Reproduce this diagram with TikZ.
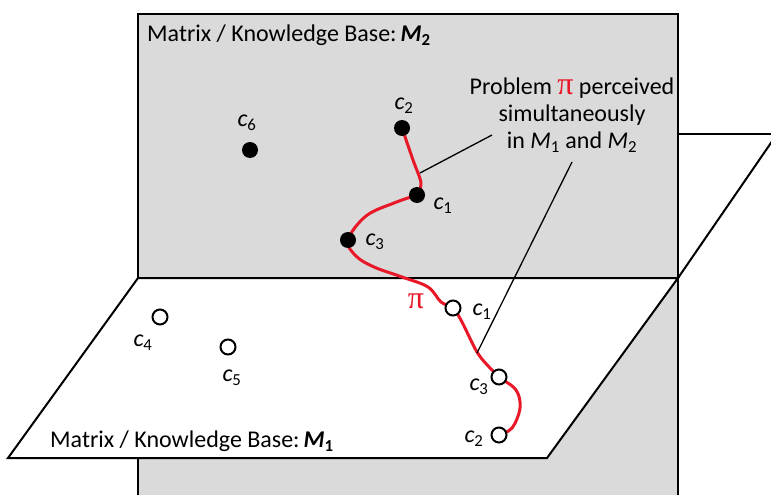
\documentclass[tikz,border=0pt]{standalone}
\usepackage{fontspec}
\setmainfont{Carlito}
\newfontfamily\pifont{Liberation Serif}
\definecolor{planegray}{RGB}{218,218,218}
\definecolor{pired}{RGB}{232,24,40}
\newcommand{\cl}[1]{\textit{c}\textsubscript{#1}}
\newcommand{\bigpi}{{\pifont\fontsize{32}{27}\selectfont\color{pired}π}}
\begin{document}
\begin{tikzpicture}[x=1pt,y=-1pt,
  every node/.style={font=\fontsize{24}{27}\selectfont, inner sep=0pt},
  edge/.style={line width=2pt, line join=miter},
  fulldot/.style={circle, fill=black, minimum size=16pt, inner sep=0pt},
  opendot/.style={circle, draw=black, fill=white, line width=2pt, minimum size=15pt, inner sep=0pt},
  pipath/.style={draw=pired, line width=3pt, line cap=round, line join=round},
  leader/.style={line width=1.3pt},
  lbl/.style={inner sep=0pt}]
\useasboundingbox (0,0) rectangle (771,495);
\clip (0,0) rectangle (771,495);
% vertical plane M2
\draw[line width=2.5pt, fill=planegray] (138,14) rectangle (678,510);
% back part of horizontal plane
\draw[edge] (678,134) -- (790,134);
\draw[edge] (678,278) -- (775,137);
% front part of horizontal plane M1
\draw[edge, fill=white] (138,278) -- (678,278) -- (547,458) -- (8,458) -- cycle;
% points
\coordinate (b2) at (402,128);
\coordinate (b1) at (417,195);
\coordinate (b3) at (348,240);
\coordinate (b6) at (250,150);
\coordinate (w1) at (453,308);
\coordinate (w3) at (499,377);
\coordinate (w2) at (499,435);
\coordinate (w4) at (160,317);
\coordinate (w5) at (228,347);
% red path pi
\draw[pipath] plot[smooth, tension=0.55] coordinates {(b2) (413,160) (421,183) (b1)};
\draw[pipath] plot[smooth, tension=0.6] coordinates {(b1) (394,203) (366,216) (b3) (356,256) (374,267) (402,277) (428,287) (441,302) (w1) (462,322) (477,352) (490,368) (w3) (516,390) (520,408) (512,428) (w2)};
% leader lines
\coordinate (lp1) at (420,173);
\coordinate (lt1) at (492,135);
\coordinate (lt2) at (572,162);
\coordinate (lp2) at (477,353);
\draw[leader] (lp1) -- (lt1);
\draw[leader] (lt2) -- (lp2);
% dots
\node[fulldot] (n2) at (b2) {};
\node[fulldot] (n1) at (b1) {};
\node[fulldot] (n3) at (b3) {};
\node[fulldot] (n6) at (b6) {};
\node[opendot] (o1) at (w1) {};
\node[opendot] (o3) at (w3) {};
\node[opendot] (o2) at (w2) {};
\node[opendot] (o4) at (w4) {};
\node[opendot] (o5) at (w5) {};
% labels
\node[lbl] (l2) at (404,106) {\cl{2}};
\node[lbl] (l1) at (443,206) {\cl{1}};
\node[lbl] (l3) at (375,242) {\cl{3}};
\node[lbl] (l6) at (247,123) {\cl{6}};
\node[lbl] (m1) at (482,312) {\cl{1}};
\node[lbl] (m3) at (479,387) {\cl{3}};
\node[lbl] (m2) at (474,439) {\cl{2}};
\node[lbl] (m4) at (143,343) {\cl{4}};
\node[lbl] (m5) at (232,378) {\cl{5}};
\node[lbl] (pi) at (416,301) {\bigpi};
\node[lbl, anchor=west] (t2) at (147,35) {Matrix / Knowledge Base:\,\textbf{\textit{M}}\textsubscript{\textbf{2}}};
\node[lbl, anchor=west] (t1) at (50,441) {Matrix / Knowledge Base:\,\textbf{\textit{M}}\textsubscript{\textbf{1}}};
\node[lbl, align=center] (prob) at (572,115) {Problem \bigpi\ perceived\\simultaneously\\in \textit{M}\textsubscript{1} and \textit{M}\textsubscript{2}};
\end{tikzpicture}
\end{document}
